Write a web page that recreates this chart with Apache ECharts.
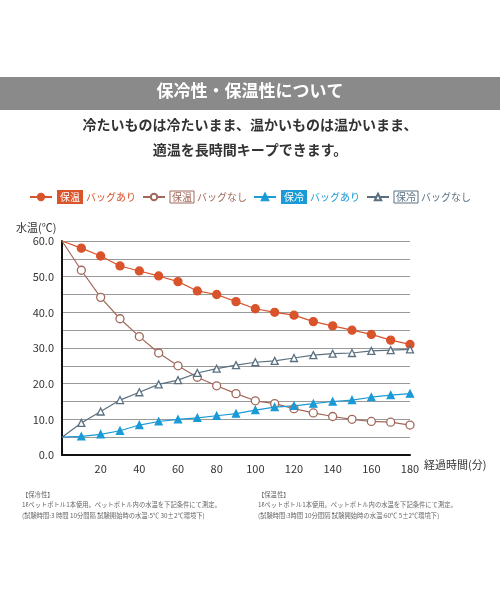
<!DOCTYPE html>
<html><head><meta charset="utf-8">
<script src="https://cdn.jsdelivr.net/npm/echarts@6/dist/echarts.min.js"></script>
<style>body{margin:0;background:#fff}#c{width:500px;height:600px}</style>
</head><body><div id="c"></div>
<script>
var minutes = [0,10,20,30,40,50,60,70,80,90,100,110,120,130,140,150,160,170,180];
var hotBag   = [60,58,55.8,53,51.6,50.2,48.6,46,45,43,41,40,39.2,37.4,36.2,35,33.8,32.2,31];
var hotNoBag = [60,51.8,44.2,38.2,33.2,28.6,25,21.8,19.4,17.2,15.2,14.4,13,11.8,10.8,10,9.4,9.2,8.4];
var coldBag  = [5,5.2,5.8,6.8,8.4,9.4,10,10.4,11,11.6,12.6,13.4,13.8,14.4,15,15.4,16.2,16.8,17.2];
var coldNoBag= [5,9,12.2,15.4,17.6,19.8,21,23,24.2,25.2,26,26.4,27.2,28,28.4,28.6,29.2,29.4,29.6];
var names = ['保温バッグあり','保温バッグなし','保冷バッグあり','保冷バッグなし'];

function pairs(v){
  return v.map(function(y,i){
    return i === 0 ? {value:[minutes[i], y], symbol:'none'} : [minutes[i], y];
  });
}
var font = '"Noto Sans CJK JP", sans-serif';
var chart = echarts.init(document.getElementById('c'));

function mk(name, data, color, symbol, hollow){
  return {
    name: name, type: 'line', data: pairs(data), symbol: symbol,
    symbolSize: symbol === 'triangle' ? 7 : 8,
    lineStyle: {color: color, width: 1.2},
    itemStyle: {color: hollow ? '#fff' : color, borderColor: color, borderWidth: 1.3},
    color: color
  };
}

var rich = {
  a: {backgroundColor:'#d9532b', color:'#fff', padding:[2,3], fontSize:10},
  b: {borderColor:'#a0685a', borderWidth:1, color:'#a0685a', padding:[1,2], fontSize:10},
  c: {backgroundColor:'#1a9ad6', color:'#fff', padding:[2,3], fontSize:10},
  d: {borderColor:'#5a7080', borderWidth:1, color:'#5a7080', padding:[1,2], fontSize:10},
  ta: {color:'#d9532b', fontSize:10, padding:[0,0,0,3]},
  tb: {color:'#a0685a', fontSize:10, padding:[0,0,0,3]},
  tc: {color:'#1a9ad6', fontSize:10, padding:[0,0,0,3]},
  td: {color:'#5a7080', fontSize:10, padding:[0,0,0,3]}
};

chart.setOption({
  textStyle: {fontFamily: font},
  graphic: [
    {type:'rect', shape:{x:0,y:77,width:500,height:33}, style:{fill:'#8a8a8a'}},
    {type:'text', left:'center', top:82, style:{text:'保冷性・保温性について', fill:'#fff', font:'bold 17px '+font}},
    {type:'text', left:'center', top:118, style:{text:'冷たいものは冷たいまま、温かいものは温かいまま、', fill:'#333', font:'bold 14px '+font}},
    {type:'text', left:'center', top:143, style:{text:'適温を長時間キープできます。', fill:'#333', font:'bold 14px '+font}},
    {type:'text', left:16, top:222, style:{text:'水温(℃)', fill:'#333', font:'11px '+font}},
    {type:'text', left:424, top:459, style:{text:'経過時間(分)', fill:'#333', font:'11px '+font}},
    {type:'text', left:22, top:489, style:{text:'【保冷性】\n1ℓペットボトル1本使用。ペットボトル内の水温を下記条件にて測定。\n(試験時間:3 時間 10分間隔 試験開始時の水温:5℃ 30±2℃環境下)', fill:'#666', font:'6.3px '+font, lineHeight:10.5}},
    {type:'text', left:258, top:489, style:{text:'【保温性】\n1ℓペットボトル1本使用。ペットボトル内の水温を下記条件にて測定。\n(試験時間:3時間 10分間隔 試験開始時の水温:60℃ 5±2℃環境下)', fill:'#666', font:'6.3px '+font, lineHeight:10.5}}
  ],
  legend: {
    top: 185, left: 'center', itemWidth: 22, itemHeight: 8, itemGap: 6,
    data: names,
    formatter: function(n){
      var i = names.indexOf(n), k = ['a','b','c','d'][i];
      return '{'+k+'|'+n.slice(0,2)+'}{t'+k+'|'+n.slice(2)+'}';
    },
    textStyle: {rich: rich}
  },
  grid: {left: 62, right: 90, top: 241, bottom: 145},
  xAxis: {
    type:'value', min:0, max:180, interval:20,
    axisLine:{lineStyle:{color:'#111', width:2}}, axisTick:{show:false},
    splitLine:{show:false},
    axisLabel:{color:'#333', fontSize:11, formatter:function(v){return v===0?'':v;}}
  },
  yAxis: {
    type:'value', min:0, max:60, interval:5,
    axisLine:{show:true, lineStyle:{color:'#111', width:2}}, axisTick:{show:false},
    splitLine:{lineStyle:{color:'#999', width:1}},
    axisLabel:{color:'#333', fontSize:11, formatter:function(v){return v%10===0?v.toFixed(1):'';}}
  },
  series: [
    mk(names[0], hotBag, '#d9532b', 'circle', false),
    mk(names[1], hotNoBag, '#a0685a', 'circle', true),
    mk(names[2], coldBag, '#1a9ad6', 'triangle', false),
    mk(names[3], coldNoBag, '#5a7080', 'triangle', true)
  ]
});
</script></body></html>
